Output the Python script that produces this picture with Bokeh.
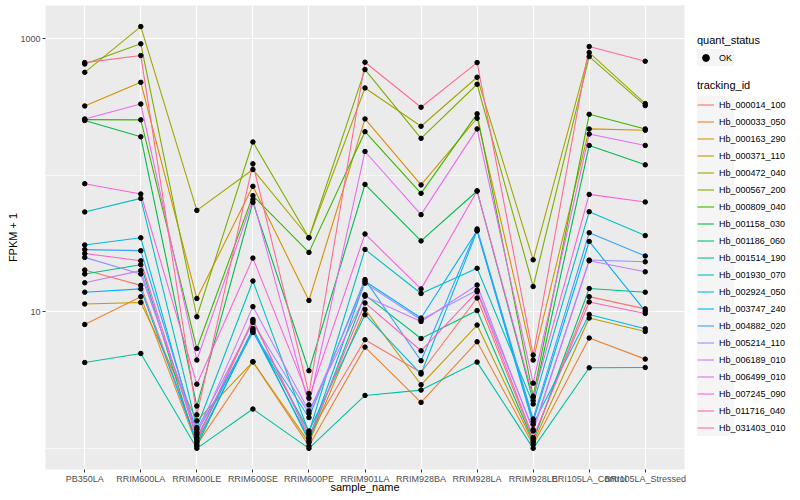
from bokeh.plotting import figure
from bokeh.layouts import row
from bokeh.models import FactorRange, Range1d, FixedTicker, BasicTickFormatter, Legend, LegendItem
from bokeh.embed import file_html
from bokeh.resources import INLINE

samples = ["PB350LA", "RRIM600LA", "RRIM600LE", "RRIM600SE", "RRIM600PE", "RRIM901LA",
           "RRIM928BA", "RRIM928LA", "RRIM928LE", "BRI105LA_Control", "BRI105LA_Stressed"]

tracking_ids = ["Hb_000014_100", "Hb_000033_050", "Hb_000163_290", "Hb_000371_110",
                "Hb_000472_040", "Hb_000567_200", "Hb_000809_040", "Hb_001158_030",
                "Hb_001186_060", "Hb_001514_190", "Hb_001930_070", "Hb_002924_050",
                "Hb_003747_240", "Hb_004882_020", "Hb_005214_110", "Hb_006189_010",
                "Hb_006499_010", "Hb_007245_090", "Hb_011716_040", "Hb_031403_010"]

# FPKM + 1 per sample
hb_000014_100 = [20.2, 15.6, 1.13, 8.59, 1.26, 6.24, 3.59, 12.6, 1.17, 12.9, 10.5]
hb_000033_050 = [8.07, 12.9, 1.06, 4.30, 1.04, 5.51, 2.17, 6.03, 1.06, 6.42, 4.50]
hb_000163_290 = [321, 478, 12.5, 82.8, 12.1, 258, 84.8, 261, 4.43, 218, 213]
hb_000371_110 = [11.4, 11.7, 1.59, 4.30, 1.10, 10.4, 2.92, 7.99, 1.10, 8.99, 7.17]
hb_000472_040 = [566, 1224, 55.2, 110, 34.8, 435, 228, 521, 24.0, 790, 334]
hb_000567_200 = [651, 915, 9.19, 175, 34.8, 593, 186, 463, 15.3, 738, 323]
hb_000809_040 = [255, 254, 5.38, 70.8, 27.2, 208, 73.6, 281, 2.41, 279, 218]
hb_001158_030 = [251, 191, 2.04, 63.2, 3.70, 85.6, 33.0, 76.6, 2.23, 165, 119]
hb_001186_060 = [18.9, 22.1, 1.04, 7.54, 1.13, 13.3, 6.37, 10.2, 1.13, 14.8, 13.9]
hb_001514_190 = [4.25, 4.95, 1.0, 1.94, 1.0, 2.44, 2.67, 4.28, 1.0, 3.89, 3.91]
hb_001930_070 = [53.8, 67.6, 1.42, 16.8, 1.30, 28.6, 13.6, 20.8, 2.11, 54.0, 36.1]
hb_002924_050 = [30.8, 34.8, 1.20, 7.38, 1.34, 9.51, 3.50, 39.2, 1.50, 9.56, 7.51]
hb_003747_240 = [13.9, 14.7, 1.10, 7.20, 1.17, 16.7, 8.99, 39.2, 1.57, 32.7, 10.1]
hb_004882_020 = [28.5, 28.0, 1.31, 7.05, 1.68, 17.2, 4.38, 40.4, 1.64, 37.9, 25.6]
hb_005214_110 = [25.0, 18.9, 1.37, 8.35, 1.80, 16.2, 8.74, 14.4, 1.37, 23.9, 23.2]
hb_006189_010 = [16.3, 20.0, 1.26, 10.9, 1.88, 13.0, 8.49, 15.7, 1.34, 23.6, 19.6]
hb_006499_010 = [258, 332, 4.43, 66.2, 2.08, 149, 51.4, 218, 3.00, 200, 165]
hb_007245_090 = [86.6, 72.8, 2.95, 24.7, 2.33, 37.1, 14.7, 76.6, 2.36, 72.3, 63.6]
hb_011716_040 = [26.7, 23.6, 1.17, 8.78, 1.20, 11.6, 5.18, 14.0, 1.20, 11.8, 9.72]
hb_031403_010 = [667, 751, 1.76, 121, 2.52, 671, 314, 667, 4.82, 874, 682]

colors = ["#F8766D", "#EA8331", "#D89000", "#C09B00", "#A3A500", "#7CAE00", "#39B600",
          "#00BB4E", "#00BF7D", "#00C1A3", "#00BFC4", "#00BAE0", "#00B0F6", "#35A2FF",
          "#9590FF", "#C77CFF", "#E76BF3", "#FA62DB", "#FF62BC", "#FF6C91"]

series = [hb_000014_100, hb_000033_050, hb_000163_290, hb_000371_110, hb_000472_040,
          hb_000567_200, hb_000809_040, hb_001158_030, hb_001186_060, hb_001514_190,
          hb_001930_070, hb_002924_050, hb_003747_240, hb_004882_020, hb_005214_110,
          hb_006189_010, hb_006499_010, hb_007245_090, hb_011716_040, hb_031403_010]

FONT = "Liberation Sans"
H = 500

x_range = FactorRange(factors=samples, range_padding=0.2, range_padding_units="absolute")
y_range = Range1d(0.70, 1746)

p = figure(width=688, height=H, x_range=x_range, y_range=y_range, y_axis_type="log",
           output_backend="svg", toolbar_location=None,
           min_border_left=45, min_border_right=4, min_border_top=5, min_border_bottom=31)

p.background_fill_color = "#EBEBEB"
p.border_fill_color = "white"
p.outline_line_color = None

p.yaxis.ticker = FixedTicker(ticks=[10, 1000], minor_ticks=[1, 100])
p.yaxis.formatter = BasicTickFormatter(use_scientific=False)

for ax in (p.xaxis, p.yaxis):
    ax.axis_line_color = None
    ax.major_tick_line_color = "#333333"
    ax.major_tick_out = 3
    ax.major_tick_in = 0
    ax.minor_tick_line_color = None
    ax.major_label_text_font = FONT
    ax.major_label_text_font_size = "9px"
    ax.major_label_text_color = "#4D4D4D"
    ax.axis_label_text_font = FONT
    ax.axis_label_text_font_size = "11px"
    ax.axis_label_text_font_style = "normal"
    ax.axis_label_text_color = "black"

p.xaxis.axis_label = "sample_name"
p.yaxis.axis_label = "FPKM + 1"
p.xaxis.major_label_standoff = 1
p.xaxis.axis_label_standoff = -6
p.yaxis.major_label_standoff = 1
p.yaxis.axis_label_standoff = -2

p.xgrid.grid_line_color = "white"
p.xgrid.grid_line_width = 1.2
p.ygrid.grid_line_color = "white"
p.ygrid.grid_line_width = 1.2
p.ygrid.minor_grid_line_color = "white"
p.ygrid.minor_grid_line_width = 0.6

for col, vals in zip(colors, series):
    p.line(x=samples, y=vals, line_color=col, line_width=1.1)

pt_x = [s for vals in series for s in samples]
pt_y = [v for vals in series for v in vals]
p.scatter(x=pt_x, y=pt_y, size=4.5, marker="circle", fill_color="black", line_color="black")

# legend panel (frame aligned with main plot: bottom at 469)
lf = figure(width=800 - 688, height=H, x_range=x_range, y_range=y_range, y_axis_type="log",
            output_backend="svg", toolbar_location=None,
            x_axis_location=None, y_axis_location=None,
            min_border_left=0, min_border_right=0, min_border_top=0, min_border_bottom=0)
lf.grid.visible = False
lf.outline_line_color = None
lf.background_fill_color = "white"
lf.border_fill_color = "white"

key_items = []
label_items = []
for tid, col, vals in zip(tracking_ids, colors, series):
    r = lf.line(x=samples, y=vals, line_color=col, line_width=1.1)
    r.visible = False
    key_items.append(LegendItem(label=" ", renderers=[r]))
    g = lf.line(x=samples, y=vals, line_color=col, line_alpha=0)
    g.visible = False
    label_items.append(LegendItem(label=tid, renderers=[g]))
qr = lf.scatter(x=pt_x, y=pt_y, size=3.5, marker="circle", fill_color="black", line_color="black")
qr.visible = False
qg = lf.scatter(x=pt_x, y=pt_y, size=3.5, marker="circle", fill_alpha=0, line_alpha=0)
qg.visible = False


def make_legend(items, title, loc, background, standoff=1):
    lg = Legend(items=items, location=loc)
    if title:
        lg.title = title
    lg.glyph_width = 17
    lg.glyph_height = 17
    lg.spacing = 0
    lg.padding = 0
    lg.margin = 0
    lg.border_line_color = None
    lg.background_fill_alpha = 0
    lg.label_text_font = FONT
    lg.label_text_font_size = "9px"
    lg.label_text_color = "black"
    lg.label_standoff = 0 if background else 5
    lg.title_text_font = FONT
    lg.title_text_font_size = "11px"
    lg.title_text_font_style = "normal"
    lg.title_text_color = "black"
    lg.title_standoff = standoff
    if background:
        try:
            lg.item_background_policy = "every"
            lg.item_background_fill_color = "#F2F2F2"
        except Exception:
            pass
    return lg


QY = 403
TY = 33
lf.add_layout(make_legend([LegendItem(label=" ", renderers=[qr])], None, (9, QY), True), "center")
lf.add_layout(make_legend([LegendItem(label="OK", renderers=[qg])], "quant_status", (9, QY), False, 3), "center")
lf.add_layout(make_legend(key_items, None, (9, TY), True), "center")
lf.add_layout(make_legend(label_items, "tracking_id", (9, TY), False, 5), "center")

layout = row(p, lf)
open("out.html", "w").write(file_html(layout, INLINE))
